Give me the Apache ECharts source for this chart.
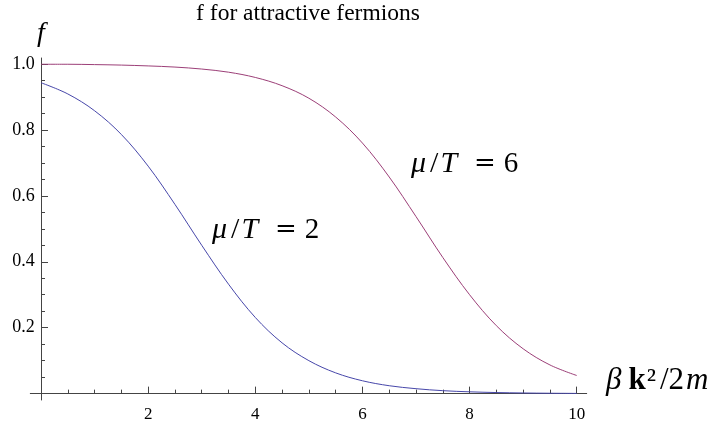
<!DOCTYPE html>
<html>
<head>
<meta charset="utf-8">
<script src="https://cdn.jsdelivr.net/npm/echarts@6/dist/echarts.min.js"></script>
<style>
  html, body { margin: 0; padding: 0; background: #fff; }
  #chart { width: 721px; height: 423px; }
</style>
</head>
<body>
<div id="chart"></div>
<script>
// Occupation f versus beta k^2 / 2m for two values of mu/T
const energy = [0, 0.5, 1, 1.5, 2, 2.5, 3, 3.5, 4, 4.5, 5, 5.5, 6, 6.5, 7, 7.5, 8, 8.5, 9, 9.5, 10];
const fMu2 = [0.943, 0.909, 0.858, 0.786, 0.690, 0.574, 0.450, 0.332, 0.231, 0.154, 0.100,
              0.063, 0.039, 0.024, 0.015, 0.009, 0.0055, 0.0033, 0.002, 0.0012, 0.0007];
const fMu6 = [0.999, 0.999, 0.998, 0.9965, 0.994, 0.9905, 0.9845, 0.975, 0.959, 0.934, 0.896,
              0.839, 0.760, 0.657, 0.537, 0.413, 0.300, 0.206, 0.136, 0.087, 0.055];

const xMajorTicks = [0, 2, 4, 6, 8, 10];
const xLabels = [2, 4, 6, 8, 10];
const xMinorTicks = [0.5, 1, 1.5, 2.5, 3, 3.5, 4.5, 5, 5.5, 6.5, 7, 7.5, 8.5, 9, 9.5];
const yMajorTicks = [0, 0.2, 0.4, 0.6, 0.8, 1.0];
const yLabels = [0.2, 0.4, 0.6, 0.8, 1.0];
const yMinorTicks = [0.05, 0.1, 0.15, 0.25, 0.3, 0.35, 0.45, 0.5, 0.55, 0.65, 0.7, 0.75, 0.85, 0.9, 0.95];

const pair = ys => energy.map((x, i) => [x, ys[i]]);

const SERIF = 'Liberation Serif';
const axisColor = '#444';
const X_RANGE = { min: -0.2, max: 10.186 };
const Y_RANGE = { min: -0.0193, max: 1.018 };

const chart = echarts.init(document.getElementById('chart'), null, { renderer: 'canvas' });

function xAxisDef(ticks, len, withLine, labels) {
  return Object.assign({
    type: 'value',
    position: 'bottom',
    axisLine: { show: withLine, onZero: true, onZeroAxisIndex: 0, lineStyle: { color: axisColor, width: 1 } },
    axisTick: { show: true, inside: true, length: len, customValues: ticks, lineStyle: { color: axisColor, width: 1 } },
    axisLabel: labels ? {
      show: true, customValues: labels, margin: 6, color: '#000',
      fontFamily: SERIF, fontSize: 17
    } : { show: false },
    splitLine: { show: false }
  }, X_RANGE);
}

function yAxisDef(ticks, len, withLine, labels) {
  return Object.assign({
    type: 'value',
    position: 'left',
    axisLine: { show: withLine, onZero: true, onZeroAxisIndex: 0, lineStyle: { color: axisColor, width: 1 } },
    axisTick: { show: true, inside: true, length: len, customValues: ticks, lineStyle: { color: axisColor, width: 1 } },
    axisLabel: labels ? {
      show: true, customValues: labels, margin: -4.5, color: '#000',
      fontFamily: SERIF, fontSize: 18,
      formatter: v => v.toFixed(1)
    } : { show: false },
    splitLine: { show: false }
  }, Y_RANGE);
}

// rich-text styles shared by the curve annotations
const mathRich = {
  mu: { fontFamily: SERIF, fontStyle: 'italic', fontSize: 30, color: '#000' },
  sl: { fontFamily: SERIF, fontSize: 30, color: '#000', padding: [0, 2, 0, 4] },
  it: { fontFamily: SERIF, fontStyle: 'italic', fontSize: 30, color: '#000' },
  eq: { fontFamily: 'DejaVu Serif', fontSize: 26, color: '#000', padding: [0, 8, 0, 17] },
  n: { fontFamily: SERIF, fontSize: 29, color: '#000' },
  beta: { fontFamily: SERIF, fontStyle: 'italic', fontSize: 31, color: '#000' },
  b: { fontFamily: SERIF, fontWeight: 'bold', fontSize: 31, color: '#000', padding: [0, 0, 0, 7] },
  s: { fontFamily: SERIF, fontSize: 31, color: '#000', padding: [0, 4, 0, 1] },
  frac: { fontFamily: SERIF, fontSize: 31, color: '#000', padding: [0, 2, 0, 0] },
  m: { fontFamily: SERIF, fontStyle: 'italic', fontSize: 31, color: '#000' }
};

chart.setOption({
  backgroundColor: '#fff',
  animation: false,
  grid: { left: 30.3, right: 134.3, top: 58, bottom: 21.3, containLabel: false },
  xAxis: [
    xAxisDef(xMajorTicks, 7, true, xLabels),
    xAxisDef(xMinorTicks, 4, false, null)
  ],
  yAxis: [
    yAxisDef(yMajorTicks, 7, true, yLabels),
    yAxisDef(yMinorTicks, 4, false, null)
  ],
  series: [
    {
      name: 'μ/T = 2', type: 'line', xAxisIndex: 0, yAxisIndex: 0,
      data: pair(fMu2), smooth: 0.35, showSymbol: false,
      lineStyle: { color: '#4747aa', width: 1 }
    },
    {
      name: 'μ/T = 6', type: 'line', xAxisIndex: 0, yAxisIndex: 0,
      data: pair(fMu6), smooth: 0.35, showSymbol: false,
      lineStyle: { color: '#9c3f78', width: 1 }
    }
  ],
  graphic: [
    {
      type: 'text', x: 308, y: 14,
      style: { text: 'f for attractive fermions', fontFamily: SERIF, fontSize: 23.5, fill: '#000', align: 'center', verticalAlign: 'middle' }
    },
    {
      type: 'text', x: 37, y: 34,
      style: { text: 'f', fontFamily: SERIF, fontStyle: 'italic', fontSize: 28, fill: '#000', align: 'left', verticalAlign: 'middle' }
    },
    {
      type: 'text', x: 411, y: 164,
      style: { text: '{mu|μ}{sl|/}{it|T}{eq|=}{n|6}', align: 'left', verticalAlign: 'middle', rich: mathRich }
    },
    {
      type: 'text', x: 212, y: 230,
      style: { text: '{mu|μ}{sl|/}{it|T}{eq|=}{n|2}', align: 'left', verticalAlign: 'middle', rich: mathRich }
    },
    {
      type: 'text', x: 606, y: 381,
      style: { text: '{beta|β}{b|k}{s|²}{frac|/2}{m|m}', align: 'left', verticalAlign: 'middle', rich: mathRich }
    }
  ]
});
</script>
</body>
</html>
